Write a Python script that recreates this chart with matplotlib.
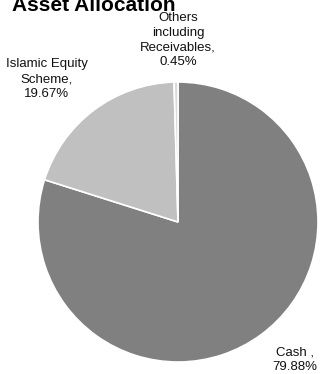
import matplotlib
matplotlib.use("Agg")
import matplotlib.pyplot as plt
from matplotlib import font_manager

# ── Data ─────────────────────────────────────────────────────────────────────
labels = ["Cash ,\n79.88%", "Islamic Equity\nScheme,\n19.67%", "Others\nincluding\nReceivables,\n0.45%"]
values = [79.88, 19.67, 0.45]
colors = ["#808080", "#c0c0c0", "#d9d9d9"]

names = {f.name for f in font_manager.fontManager.ttflist}
NARROW = "Liberation Sans Narrow" if "Liberation Sans Narrow" in names else "Liberation Sans"

W, H = 323, 374
fig = plt.figure(figsize=(W / 100, H / 100), dpi=100)
fig.patch.set_facecolor("white")
ax = fig.add_axes([0, 0, 1, 1])

# pie in pixel coordinates (y measured from bottom)
ax.pie(values, colors=colors, startangle=90, counterclock=False,
       center=(178, H - 222), radius=140, frame=True,
       wedgeprops=dict(edgecolor="white", linewidth=1.2))
ax.set_xlim(0, W)
ax.set_ylim(0, H)
ax.set_aspect("equal")
ax.axis("off")

# labels
lab_pos = [(295, H - 360), (47, H - 79), (178, H - 40)]
for txt, (x, y) in zip(labels, lab_pos):
    ax.text(x, y, txt, ha="center", va="center", fontsize=9.5,
            family=NARROW, color="#111111", linespacing=1.3)

# title (cut off at the top in the original)
ax.text(12, H - 11, "Asset Allocation", ha="left", va="baseline",
        fontsize=15, fontweight="bold", family="Liberation Sans", color="black")

fig.savefig("out.png", dpi=100, facecolor="white")
